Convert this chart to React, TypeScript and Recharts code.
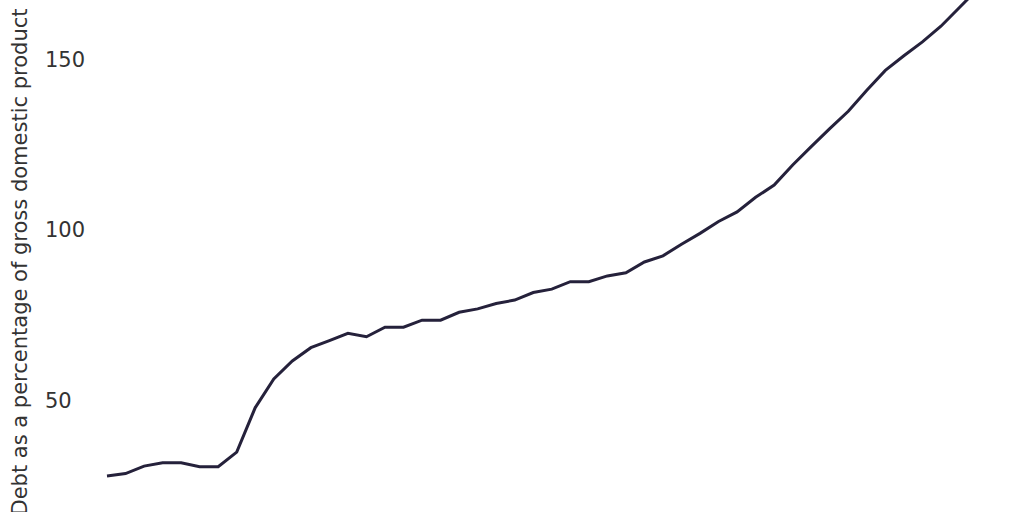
import React from 'react';
import { LineChart, Line, XAxis, YAxis, Label } from 'recharts';

const years = [
  1974, 1975, 1976, 1977, 1978, 1979, 1980, 1981, 1982, 1983, 1984, 1985,
  1986, 1987, 1988, 1989, 1990, 1991, 1992, 1993, 1994, 1995, 1996, 1997,
  1998, 1999, 2000, 2001, 2002, 2003, 2004, 2005, 2006, 2007, 2008, 2009,
  2010, 2011, 2012, 2013, 2014, 2015, 2016, 2017, 2018, 2019, 2020, 2021,
];

const debtPct = [
  27.7, 28.4, 30.6, 31.6, 31.6, 30.4, 30.4, 34.7, 47.8, 56.2, 61.5, 65.4,
  67.5, 69.6, 68.6, 71.4, 71.4, 73.5, 73.5, 75.8, 76.8, 78.4, 79.4, 81.6,
  82.6, 84.8, 84.8, 86.5, 87.4, 90.6, 92.4, 95.8, 99.0, 102.5, 105.3, 109.6,
  113.2, 119.1, 124.5, 129.8, 134.9, 141.1, 146.9, 151.2, 155.3, 159.9, 165.4, 170.9,
];

const yTicks = [50, 100, 150];
const yLabel = 'Debt as a percentage of gross domestic product';

const data = years.map((year, i) => ({ year, debt: debtPct[i] }));

const FONT = '"DejaVu Sans", sans-serif';

// ticks are left aligned in the reference, so draw them ourselves
function LeftTick({ y, payload }: any) {
  return (
    <text x={45} y={y} dy={7.5} textAnchor="start" fill="#333333" fontSize={21} fontFamily={FONT}>
      {payload.value}
    </text>
  );
}

function AxisTitle() {
  const cx = 27;
  const cy = 262;
  return (
    <text
      x={cx}
      y={cy}
      transform={`rotate(-90, ${cx}, ${cy})`}
      textAnchor="middle"
      fill="#333333"
      fontSize={21}
      fontFamily={FONT}
    >
      {yLabel}
    </text>
  );
}

export default function App() {
  return (
    <div style={{ position: 'absolute', left: 0, top: 0, width: 1024, height: 512, overflow: 'hidden', background: '#fff' }}>
      <LineChart width={1024} height={512} data={data} margin={{ top: 0, right: 46, bottom: 0, left: 0 }}>
        <XAxis dataKey="year" hide padding={{ left: 0, right: 0 }} />
        <YAxis
          width={107}
          domain={[17.1, 167.6]}
          allowDataOverflow
          ticks={yTicks}
          axisLine={false}
          tickLine={false}
          tickSize={0}
          tick={<LeftTick />}
        >
          <Label content={<AxisTitle />} />
        </YAxis>
        <Line
          type="linear"
          dataKey="debt"
          stroke="#25213b"
          strokeWidth={3}
          dot={false}
          isAnimationActive={false}
        />
      </LineChart>
    </div>
  );
}
